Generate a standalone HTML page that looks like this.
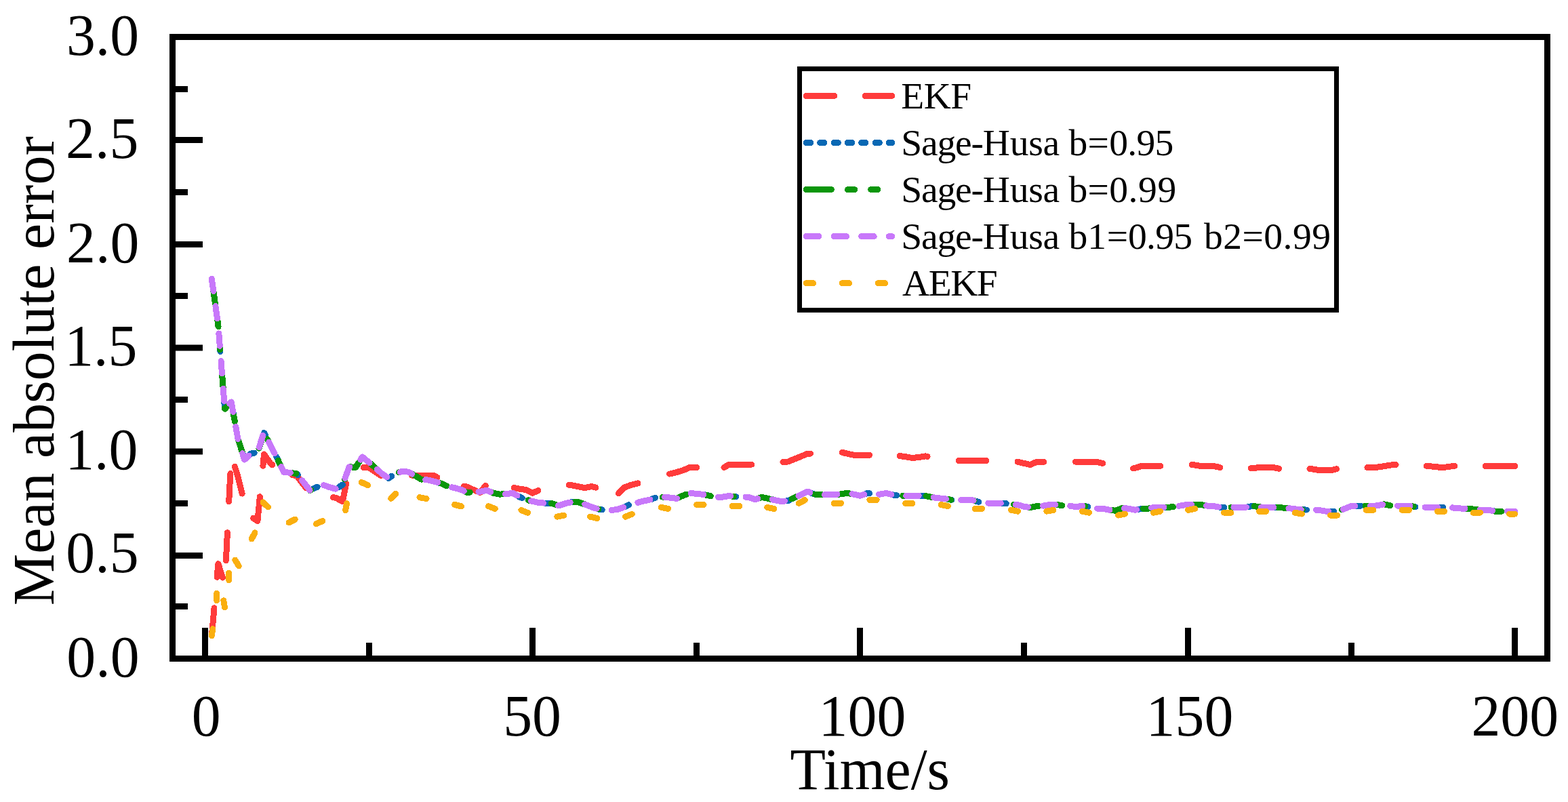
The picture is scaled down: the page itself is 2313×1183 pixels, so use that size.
<!DOCTYPE html>
<html lang="en">
<head>
<meta charset="utf-8">
<title>Mean absolute error</title>
<style>
html, body { margin: 0; padding: 0; background: #ffffff; }
body { width: 2313px; height: 1183px; overflow: hidden; }
svg { display: block; }
text { font-family: "Liberation Serif", "DejaVu Serif", serif; fill: #000; }
.tick { font-size: 85.8px; }
.leg { font-size: 55.56px; }
.curve { fill: none; stroke-width: 9.0; stroke-linecap: round; stroke-linejoin: round; shape-rendering: crispEdges; }
</style>
</head>
<body>
<svg width="2313" height="1183" viewBox="0 0 2313 1183">
<rect x="0" y="0" width="2313" height="1183" fill="#ffffff"/>

<g id="curves">
<path class="curve" d="M312.3,938.0 L321.9,831.6 L331.6,862.0 L341.2,671.0 L350.9,703.0 L358.0,731.0" stroke="#ff3b3b" stroke-dasharray="41.3 45.7"/>
<path class="curve" d="M373.6,764.4 L379.9,768.5 L383.4,732.7 M387.9,687.3 L389.5,670.0 L399.2,683.7 L401.8,685.9 M431.0,700.5 L437.8,701.9 L447.5,714.9 L452.0,720.0 M491.5,733.6 L495.8,734.6 L505.5,739.5 L510.7,713.5 M536.0,689.6 L544.1,689.6 L553.8,696.1 L562.0,701.6 M607.5,701.2 L611.7,701.2 L621.4,701.5 L631.1,701.5 L640.7,701.9 L644.9,704.1 M684.0,717.4 L689.0,718.1 L698.7,722.6 L708.3,726.5 L716.3,716.4 M758.1,719.4 L766.3,721.3 L776.0,722.4 L785.6,727.2 L793.8,723.6 M839.2,715.1 L843.6,715.9 L853.2,717.8 L862.9,719.7 L872.6,717.5 L878.8,719.1 M912.5,727.8 L920.9,719.1 L930.5,715.5 L940.2,713.1 L941.0,712.9 M987.6,699.1 L988.5,698.9 L998.2,696.5 L1007.8,693.7 L1017.5,689.4 L1027.1,689.4 L1027.8,689.4 M1068.0,689.6 L1075.4,685.2 L1085.1,685.2 L1094.8,685.2 L1104.4,685.2 L1108.8,685.1 M1154.9,681.5 L1162.4,681.0 L1172.0,677.1 L1181.7,673.2 L1191.4,669.0 L1195.7,669.0 M1242.4,667.4 L1249.3,669.0 L1259.0,671.2 L1268.7,671.2 L1278.3,671.2 L1282.5,671.3 M1327.2,672.6 L1336.3,673.8 L1345.9,675.5 L1355.6,674.5 L1365.3,672.9 L1368.1,673.3 M1414.1,679.4 L1423.2,679.4 L1432.9,679.4 L1442.5,679.4 L1452.2,679.4 L1455.0,679.5 M1501.0,681.1 L1510.2,683.3 L1519.8,685.5 L1529.5,681.2 L1539.1,681.2 L1539.8,681.2 M1586.5,681.2 L1587.4,681.2 L1597.1,681.2 L1606.8,681.2 L1616.4,681.2 L1626.1,683.3 L1626.7,683.4 M1671.4,690.9 L1674.4,690.4 L1684.1,687.4 L1693.7,687.4 L1703.4,687.4 L1711.6,687.4 M1758.3,685.6 L1761.3,685.8 L1771.0,687.4 L1780.7,687.4 L1790.3,687.4 L1799.8,689.6 M1845.1,690.8 L1848.3,690.7 L1857.9,689.4 L1867.6,689.4 L1877.3,689.4 L1886.6,691.3 M1932.0,691.4 L1935.2,691.7 L1944.9,693.5 L1954.5,693.5 L1964.2,693.5 L1971.5,691.7 M2016.9,689.7 L2022.2,689.7 L2031.8,689.1 L2041.5,687.7 L2051.2,686.1 L2059.1,685.4 M2104.1,687.2 L2109.1,687.7 L2118.8,688.7 L2128.4,689.7 L2138.1,688.2 L2145.6,687.4 M2191.0,687.4 L2196.1,687.4 L2205.7,687.4 L2215.4,687.4 L2225.0,687.4 L2234.7,687.4" stroke="#ff3b3b"/>
<path class="curve" d="M312.3,411.2 L321.9,480.0 L331.6,603.2 L341.2,592.9 L350.9,646.9 L360.6,677.3 L370.2,669.0 L379.9,667.3 L389.5,638.5 L399.2,657.4 L408.9,676.1 L418.5,696.4 L428.2,697.3 L437.8,698.7 L447.5,711.0 L457.2,723.3 L466.8,718.7 L476.5,715.3 L486.1,718.7 L495.8,721.3 L505.5,714.9 L515.1,688.9 L524.8,689.2 L534.5,674.0 L544.1,681.8 L549.0,686.0" stroke="#0868b4" stroke-dasharray="6.3 14.05"/>
<path class="curve" d="M549.0,686.0 L553.8,690.0 L563.4,698.7 L573.1,705.4 L582.8,699.0 L592.4,695.4 L602.1,696.1 L611.7,701.2 L621.4,707.1 L631.1,708.0 L640.7,710.3 L650.4,712.9 L660.0,717.5 L669.7,719.4 L679.4,722.0 L689.0,726.5 L698.7,725.9 L708.3,725.2 L718.0,723.3 L727.7,727.2 L737.3,729.1 L747.0,728.5 L756.6,727.4 L766.3,733.0 L776.0,736.9 L785.6,739.5 L795.3,741.5 L804.9,742.3 L814.6,742.7 L824.3,746.0 L833.9,742.7 L843.6,740.4 L853.2,740.8 L862.9,744.0 L872.6,747.9 L882.2,750.9 L891.9,752.5 L901.6,752.5 L911.2,751.4 L920.9,747.9 L930.5,743.4 L940.2,741.5 L949.9,738.9 L959.5,736.9 L969.2,733.2 L978.8,733.1 L988.5,734.1 L998.2,735.4 L1007.8,730.9 L1017.5,727.4 L1027.1,728.3 L1036.8,729.3 L1046.5,731.3 L1056.1,733.5 L1065.8,733.1 L1075.4,731.5 L1085.1,732.8 L1094.8,732.8 L1104.4,733.5 L1114.1,736.7 L1123.7,733.5 L1133.4,735.4 L1143.1,737.8 L1152.7,739.6 L1162.4,738.7 L1172.0,734.1 L1181.7,729.6 L1191.4,725.1 L1201.0,729.0 L1210.7,729.6 L1220.3,729.6 L1230.0,729.3 L1239.7,729.0 L1249.3,727.3 L1259.0,729.0 L1268.7,731.3 L1278.3,727.9 L1288.0,727.7 L1297.6,729.2 L1307.3,727.4 L1317.0,730.0 L1326.6,731.3 L1336.3,731.3 L1345.9,731.3 L1355.6,731.3 L1365.3,731.5 L1374.9,733.5 L1384.6,734.8 L1394.2,735.7 L1403.9,737.4 L1413.6,737.4 L1423.2,737.4 L1432.9,737.4 L1442.5,740.0 L1452.2,741.9 L1461.9,742.2 L1471.5,742.2 L1481.2,742.2 L1490.8,743.9 L1500.5,744.5 L1510.2,747.1 L1519.8,748.7 L1529.5,746.5 L1539.1,746.1 L1548.8,744.3 L1558.5,744.3 L1568.1,746.1 L1577.8,746.1 L1587.4,747.8 L1597.1,746.1 L1606.8,747.8 L1616.4,750.1 L1626.1,750.1 L1635.7,752.0 L1645.4,753.3 L1655.1,749.7 L1664.7,750.1 L1674.4,752.3 L1684.1,750.4 L1693.7,750.1 L1703.4,748.2 L1713.0,748.2 L1722.7,748.2 L1732.4,747.8 L1742.0,745.8 L1751.7,744.3 L1761.3,744.3 L1771.0,744.3 L1780.7,746.1 L1790.3,746.5 L1800.0,748.4 L1809.6,748.4 L1819.3,748.2 L1829.0,748.2 L1838.6,748.2 L1848.3,746.3 L1857.9,747.9 L1867.6,748.2 L1877.3,748.2 L1886.9,748.2 L1896.6,749.7 L1906.2,750.1 L1915.9,751.6 L1925.6,752.0 L1935.2,752.0 L1944.9,752.3 L1954.5,754.0 L1964.2,754.2 L1973.9,754.2 L1983.5,750.4 L1993.2,746.5 L2002.8,746.1 L2012.5,746.1 L2022.2,746.5 L2031.8,745.8 L2041.5,743.9 L2051.2,745.8 L2060.8,746.1 L2070.5,746.1 L2080.1,746.1 L2089.8,748.2 L2099.5,748.2 L2109.1,748.2 L2118.8,748.2 L2128.4,748.2 L2138.1,748.0 L2147.8,749.7 L2157.4,750.1 L2167.1,750.1 L2176.7,751.6 L2186.4,752.3 L2196.1,752.3 L2205.7,754.2 L2215.4,754.2 L2225.0,754.2 L2234.7,754.2" stroke="#0868b4" stroke-dasharray="6.3 14.05" stroke-dashoffset="10.58"/>
<path class="curve" d="M312.3,411.2 L321.9,480.0 L331.6,603.2 L341.2,592.9 L350.9,646.9 L360.6,677.3 L370.2,669.0 L379.9,667.3 L389.5,638.5 L399.2,657.4 L408.9,676.1 L418.5,696.4 L428.2,697.3 L437.8,698.7 L447.5,711.0 L457.2,723.3 L466.8,718.7 L476.5,715.3 L486.1,718.7 L495.8,721.3 L505.5,714.9 L515.1,688.9 L524.8,689.2 L534.5,674.0 L544.1,681.8 L553.8,690.0 L563.4,698.7 L567.9,701.8" stroke="#0a960a" stroke-dasharray="37.1 24.1 10.1 24.0 10.1 25.5"/>
<path class="curve" d="M588.4,696.9 L592.4,695.4 L602.1,696.1 L611.7,701.2 L621.4,707.1 L622.3,707.1 M649.6,712.7 L650.4,712.9 L658.8,716.9 M683.7,724.0 L689.0,726.5 L693.2,726.2 M718.0,723.3 L718.0,723.3 L727.7,727.2 L737.3,729.1 L747.0,728.5 L754.1,727.7 M779.2,737.8 L785.6,739.5 L789.0,740.2 M813.3,742.7 L814.6,742.7 L822.9,745.5 M847.6,740.6 L853.2,740.8 L862.9,744.0 L872.6,747.9 L882.2,750.9 L883.0,751.0 M908.8,751.7 L911.2,751.4 L918.4,748.8 M942.9,740.7 L949.9,738.9 L952.7,738.3 M977.2,733.1 L978.8,733.1 L988.5,734.1 L998.2,735.4 L1007.8,730.9 L1012.8,729.1 M1038.4,729.7 L1046.5,731.3 L1048.3,731.7 M1072.5,732.0 L1075.4,731.5 L1082.5,732.5 M1106.8,734.3 L1114.1,736.7 L1123.7,733.5 L1133.4,735.4 L1142.5,737.6 M1168.0,736.0 L1172.0,734.1 L1177.1,731.7 M1202.1,729.0 L1210.7,729.6 L1212.2,729.6 M1236.4,729.1 L1239.7,729.0 L1249.3,727.3 L1259.0,729.0 L1268.7,731.3 L1272.7,729.9 M1297.6,729.2 L1297.6,729.2 L1307.3,727.4 L1307.5,727.5 M1331.7,731.3 L1336.3,731.3 L1341.8,731.3 M1366.0,731.7 L1374.9,733.5 L1384.6,734.8 L1394.2,735.7 L1402.7,737.2 M1427.2,737.4 L1432.9,737.4 L1437.1,738.5 M1461.3,742.2 L1461.9,742.2 L1471.4,742.2 M1495.6,744.2 L1500.5,744.5 L1510.2,747.1 L1519.8,748.7 L1529.5,746.5 L1532.0,746.4 M1556.8,744.3 L1558.5,744.3 L1566.8,745.8 M1590.9,747.2 L1597.1,746.1 L1600.9,746.7 M1625.2,750.1 L1626.1,750.1 L1635.7,752.0 L1645.4,753.3 L1655.1,749.7 L1661.3,749.9 M1686.4,750.3 L1693.7,750.1 L1696.4,749.5 M1720.5,748.2 L1722.7,748.2 L1730.6,747.8 M1754.8,744.3 L1761.3,744.3 L1771.0,744.3 L1780.7,746.1 L1790.3,746.5 L1791.7,746.7 M1816.0,748.2 L1819.3,748.2 L1826.1,748.2 M1850.1,746.6 L1857.9,747.9 L1860.1,747.9 M1884.4,748.2 L1886.9,748.2 L1896.6,749.7 L1906.2,750.1 L1915.9,751.6 L1921.2,751.9 M1945.6,752.4 L1954.5,754.0 L1955.6,754.0 M1979.7,751.9 L1983.5,750.4 L1989.1,748.1 M2014.0,746.1 L2022.2,746.5 L2031.8,745.8 L2041.5,743.9 L2050.7,745.7 M2075.2,746.1 L2080.1,746.1 L2085.2,747.2 M2109.3,748.2 L2118.8,748.2 L2119.4,748.2 M2143.6,749.0 L2147.8,749.7 L2157.4,750.1 L2167.1,750.1 L2176.7,751.6 L2180.5,751.9 M2204.8,754.1 L2205.7,754.2 L2214.9,754.2" stroke="#0a960a"/>
<path class="curve" d="M312.3,411.2 L321.9,480.0 L331.6,603.2 L341.2,592.9 L350.9,646.9 L360.6,678.1 L370.2,669.0 L379.9,667.3 L389.5,637.0 L399.2,657.4 L408.9,676.1 L418.5,696.4 L428.2,697.3 L437.8,698.7 L447.5,711.0 L457.2,723.3 L466.8,718.7 L476.5,715.3 L486.1,718.7 L495.8,721.3 L505.5,714.9 L515.1,688.9 L524.8,689.2 L534.5,674.0 L544.1,681.8 L549.0,686.0" stroke="#c878fa" stroke-dasharray="18.5 22.2"/>
<path class="curve" d="M549.0,686.0 L553.8,690.0 L563.4,698.7 L573.1,705.4 L582.8,699.0 L592.4,695.4 L602.1,696.1 L611.7,701.2 L621.4,707.1 L631.1,708.0 L640.7,710.3 L650.4,712.9 L660.0,717.5 L669.7,719.4 L679.4,722.0 L689.0,726.5 L698.7,725.9 L708.3,725.2 L718.0,723.3 L727.7,727.2 L737.3,729.1 L747.0,728.5 L756.6,727.4 L766.3,733.0 L776.0,736.9 L785.6,739.5 L795.3,741.5 L804.9,742.3 L814.6,742.7 L824.3,746.0 L833.9,742.7 L843.6,740.4 L853.2,740.8 L862.9,744.0 L872.6,747.9 L882.2,750.9 L891.9,752.5 L901.6,752.5 L911.2,751.4 L920.9,747.9 L930.5,743.4 L940.2,741.5 L949.9,738.9 L959.5,736.9 L969.2,733.2 L978.8,733.1 L988.5,734.1 L998.2,735.4 L1007.8,730.9 L1017.5,727.4 L1027.1,728.3 L1036.8,729.3 L1046.5,731.3 L1056.1,733.5 L1065.8,733.1 L1075.4,731.5 L1085.1,732.8 L1094.8,732.8 L1104.4,733.5 L1114.1,736.7 L1123.7,733.5 L1133.4,735.4 L1143.1,737.8 L1152.7,739.6 L1162.4,738.7 L1172.0,734.1 L1181.7,729.6 L1191.4,725.1 L1201.0,729.0 L1210.7,729.6 L1220.3,729.6 L1230.0,729.3 L1239.7,729.0 L1249.3,727.3 L1259.0,729.0 L1268.7,731.3 L1278.3,727.9 L1288.0,727.7 L1297.6,729.2 L1307.3,727.4 L1317.0,730.0 L1326.6,731.3 L1336.3,731.3 L1345.9,731.3 L1355.6,731.3 L1365.3,731.5 L1374.9,733.5 L1384.6,734.8 L1394.2,735.7 L1403.9,737.4 L1413.6,737.4 L1423.2,737.4 L1432.9,737.4 L1442.5,740.0 L1452.2,741.9 L1461.9,742.2 L1471.5,742.2 L1481.2,742.2 L1490.8,743.9 L1500.5,744.5 L1510.2,747.1 L1519.8,748.7 L1529.5,746.5 L1539.1,746.1 L1548.8,744.3 L1558.5,744.3 L1568.1,746.1 L1577.8,746.1 L1587.4,747.8 L1597.1,746.1 L1606.8,747.8 L1616.4,750.1 L1626.1,750.1 L1635.7,752.0 L1645.4,753.3 L1655.1,749.7 L1664.7,750.1 L1674.4,752.3 L1684.1,750.4 L1693.7,750.1 L1703.4,748.2 L1713.0,748.2 L1722.7,748.2 L1732.4,747.8 L1742.0,745.8 L1751.7,744.3 L1761.3,744.3 L1771.0,744.3 L1780.7,746.1 L1790.3,746.5 L1800.0,748.4 L1809.6,748.4 L1819.3,748.2 L1829.0,748.2 L1838.6,748.2 L1848.3,746.3 L1857.9,747.9 L1867.6,748.2 L1877.3,748.2 L1886.9,748.2 L1896.6,749.7 L1906.2,750.1 L1915.9,751.6 L1925.6,752.0 L1935.2,752.0 L1944.9,752.3 L1954.5,754.0 L1964.2,754.2 L1973.9,754.2 L1983.5,750.4 L1993.2,746.5 L2002.8,746.1 L2012.5,746.1 L2022.2,746.5 L2031.8,745.8 L2041.5,743.9 L2051.2,745.8 L2060.8,746.1 L2070.5,746.1 L2080.1,746.1 L2089.8,748.2 L2099.5,748.2 L2109.1,748.2 L2118.8,748.2 L2128.4,748.2 L2138.1,748.0 L2147.8,749.7 L2157.4,750.1 L2167.1,750.1 L2176.7,751.6 L2186.4,752.3 L2196.1,752.3 L2205.7,754.2 L2215.4,754.2 L2225.0,754.2 L2234.7,754.2" stroke="#c878fa" stroke-dasharray="18.5 22.2" stroke-dashoffset="30.93"/>
<path class="curve" d="M312.3,938.0 L313.8,927.8 M319.6,885.6 L319.6,875.4 M329.8,885.8 L331.5,896.0 M337.6,855.6 L337.6,845.3 M346.8,826.0 L352.2,834.8 M371.2,795.0 L376.0,785.8 M388.0,740.9 L395.5,748.0 M426.0,770.8 L435.1,766.2 M466.3,772.8 L475.7,768.5 M509.6,752.7 L511.5,742.5 M533.1,711.4 L542.5,715.7 M576.7,735.3 L583.9,728.1 M619.0,733.7 L629.1,735.6 M670.6,744.4 L680.6,746.9 M720.6,746.7 L730.2,750.4 M768.9,752.5 L778.5,756.4 M821.9,762.2 L831.9,760.2 M870.5,762.2 L880.6,764.5 M922.6,762.2 L932.2,758.3 M975.4,748.4 L985.5,750.4 M1027.8,744.5 L1038.1,744.5 M1080.3,746.5 L1090.7,746.5 M1131.7,748.4 L1141.8,750.4 M1178.2,742.4 L1187.3,737.6 M1230.2,742.4 L1240.5,742.4 M1282.8,737.4 L1293.2,737.4 M1335.7,742.4 L1346.0,742.4 M1388.3,744.5 L1398.4,746.5 M1438.2,750.4 L1448.5,750.4 M1491.4,752.3 L1501.5,754.2 M1543.8,754.1 L1553.9,752.4 M1596.4,754.2 L1606.4,756.2 M1649.5,760.1 L1659.6,758.1 M1701.4,756.2 L1711.5,754.2 M1752.6,752.3 L1762.7,750.4 M1805.5,756.2 L1815.8,756.2 M1857.4,754.2 L1867.7,754.2 M1910.3,756.2 L1920.5,758.1 M1962.5,760.1 L1972.8,760.1 M2015.3,752.3 L2025.7,752.3 M2068.2,752.3 L2078.5,752.3 M2120.4,754.2 L2130.7,754.2 M2173.2,756.2 L2183.5,756.2 M2226.4,758.1 L2234.7,758.1" stroke="#faaf0f"/>
</g>
<g id="ticks" stroke="#000" stroke-width="9.0" stroke-linecap="butt">
<line x1="302.5" y1="971.5" x2="302.5" y2="926"/>
<line x1="785.5" y1="971.5" x2="785.5" y2="926"/>
<line x1="1268.5" y1="971.5" x2="1268.5" y2="926"/>
<line x1="1752.5" y1="971.5" x2="1752.5" y2="926"/>
<line x1="2234.5" y1="971.5" x2="2234.5" y2="926"/>
<line x1="544.5" y1="971.5" x2="544.5" y2="948"/>
<line x1="1027.5" y1="971.5" x2="1027.5" y2="948"/>
<line x1="1510.5" y1="971.5" x2="1510.5" y2="948"/>
<line x1="1993.5" y1="971.5" x2="1993.5" y2="948"/>
<line x1="254.5" y1="206.5" x2="299" y2="206.5"/>
<line x1="254.5" y1="360.5" x2="299" y2="360.5"/>
<line x1="254.5" y1="513.0" x2="299" y2="513.0"/>
<line x1="254.5" y1="666.0" x2="299" y2="666.0"/>
<line x1="254.5" y1="819.5" x2="299" y2="819.5"/>
<line x1="254.5" y1="131.5" x2="277" y2="131.5"/>
<line x1="254.5" y1="283.5" x2="277" y2="283.5"/>
<line x1="254.5" y1="436.5" x2="277" y2="436.5"/>
<line x1="254.5" y1="589.5" x2="277" y2="589.5"/>
<line x1="254.5" y1="742.5" x2="277" y2="742.5"/>
<line x1="254.5" y1="894.5" x2="277" y2="894.5"/>
</g>
<rect x="254.5" y="54.5" width="2028.0" height="917.0" fill="none" stroke="#000" stroke-width="9.0" stroke-linejoin="miter"/>
<g id="ticklabels">
<text class="tick" transform="translate(282.75 1084.80) scale(1.0000 1)">0</text>
<text class="tick" transform="translate(742.20 1084.80) scale(1.0000 1)">50</text>
<text class="tick" transform="translate(1207.60 1084.80) scale(1.0000 1)">100</text>
<text class="tick" transform="translate(1690.60 1084.80) scale(1.0000 1)">150</text>
<text class="tick" transform="translate(2170.43 1084.80) scale(1.0000 1)">200</text>
<text class="tick" transform="translate(98.28 997.60) scale(1.0000 1)">0.0</text>
<text class="tick" transform="translate(97.28 843.90) scale(1.0000 1)">0.5</text>
<text class="tick" transform="translate(96.15 692.20) scale(1.0000 1)">1.0</text>
<text class="tick" transform="translate(95.15 538.50) scale(1.0000 1)">1.5</text>
<text class="tick" transform="translate(98.03 386.80) scale(1.0000 1)">2.0</text>
<text class="tick" transform="translate(97.03 233.10) scale(1.0000 1)">2.5</text>
<text class="tick" transform="translate(97.90 81.40) scale(1.0000 1)">3.0</text>
</g>
<g id="axislabels">
<text class="tick" transform="translate(1165.40 1163.80) scale(1.0015 1)">Time/s</text>
<text class="tick" transform="translate(78.50 893.21) rotate(-90) scale(1.0022 1)">Mean absolute error</text>
</g>
<rect x="1179.5" y="101.5" width="792.0" height="356.0" fill="#ffffff" stroke="#000" stroke-width="7"/>
<g id="legend">
<path class="curve" d="M1189.3,141.45 L1315.6,141.45" stroke="#ff3b3b" stroke-dasharray="41.3 45.7"/>
<text class="leg" x="1329.30" y="159.90" dx="0 -0.6 -0.6">EKF</text>
<path class="curve" d="M1189.3,210.50 L1315.6,210.50" stroke="#0868b4" stroke-dasharray="6.3 14.05"/>
<text class="leg" x="1329.15" y="228.95" dx="0 -1.16 -1.16 -1.16 -1.16 -1.16 -0.3 -0.3 -0.3 -0.3 -0.3 0.4 0.3 -0.7 -0.7 -0.7">Sage-Husa b=0.95</text>
<path class="curve" d="M1189.3,279.55 L1315.6,279.55" stroke="#0a960a" stroke-dasharray="37.1 24.1 10.1 24.0 10.1 25.5"/>
<text class="leg" x="1329.15" y="298.00" dx="0 -1.16 -1.16 -1.16 -1.16 -1.16 -0.3 -0.3 -0.3 -0.3 -0.3 0.4 0.3 0.6 0.6 0.6">Sage-Husa b=0.99</text>
<path class="curve" d="M1189.3,348.60 L1315.6,348.60" stroke="#c878fa" stroke-dasharray="18.5 22.2"/>
<text class="leg" x="1329.15" y="367.05" dx="0 -1.16 -1.16 -1.16 -1.16 -1.16 -0.3 -0.3 -0.3 -0.3 -0.3 0 0.7 0 -0.73 -0.73 -0.74 0 3 0.5 0.5 0.5 0.5 0.5 0.5">Sage-Husa b1=0.95 b2=0.99</text>
<path class="curve" d="M1189.3,417.65 L1315.6,417.65" stroke="#faaf0f" stroke-dasharray="10.3 42.7"/>
<text class="leg" x="1331.10" y="436.10" dx="0 -1.5 -1.5 -1.6">AEKF</text>
</g>
</svg>
</body>
</html>
